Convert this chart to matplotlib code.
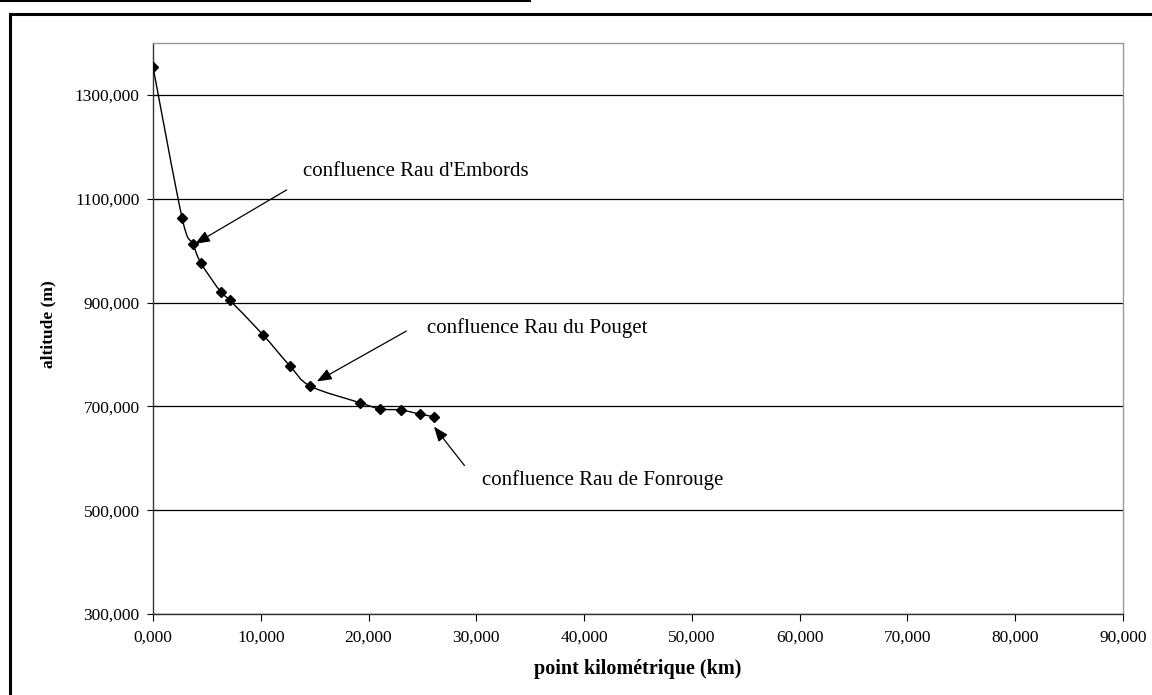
import matplotlib
matplotlib.use("Agg")
import matplotlib.pyplot as plt
from matplotlib.path import Path
from matplotlib.patches import PathPatch, Rectangle
from matplotlib.lines import Line2D
from matplotlib.ticker import FuncFormatter

plt.rcParams['font.family'] = ['Liberation Serif', 'DejaVu Serif']

# Data
km = [0.0, 2.7, 3.7, 4.45, 6.3, 7.1, 10.2, 12.7, 14.6, 19.2, 21.1, 23.0, 24.8, 26.1]
altitude = [1354, 1063, 1013, 976, 920, 905, 838, 778, 739, 707, 695, 693, 685, 680]

annot_texts = ["confluence Rau d'Embords", "confluence Rau du Pouget", "confluence Rau de Fonrouge"]
annot_targets = [(3.9, 1013), (15.2, 748), (26.07, 661)]
annot_tails = [(12.4, 1117), (23.5, 845), (28.9, 586)]
annot_text_pos = [(13.9, 1152), (25.4, 851), (30.5, 558)]

xticks = [0, 10, 20, 30, 40, 50, 60, 70, 80, 90]
yticks = [300, 500, 700, 900, 1100, 1300]

fig = plt.figure(figsize=(11.52, 6.95), dpi=100)
ax = fig.add_axes([153/1152, 1-614/695, (1123-153)/1152, (614-43)/695])

# smoothed line (Catmull-Rom style Bezier as in Excel)
n = len(km)
verts = [(km[0], altitude[0])]
codes = [Path.MOVETO]
for i in range(n - 1):
    p0 = (km[max(i-1, 0)], altitude[max(i-1, 0)])
    p1 = (km[i], altitude[i])
    p2 = (km[i+1], altitude[i+1])
    p3 = (km[min(i+2, n-1)], altitude[min(i+2, n-1)])
    c1 = (p1[0] + (p2[0]-p0[0])/6, p1[1] + (p2[1]-p0[1])/6)
    c2 = (p2[0] - (p3[0]-p1[0])/6, p2[1] - (p3[1]-p1[1])/6)
    verts += [c1, c2, p2]
    codes += [Path.CURVE4]*3
ax.add_patch(PathPatch(Path(verts, codes), facecolor='none', edgecolor='black', lw=1.0, zorder=3))
ax.plot(km, altitude, linestyle='none', marker='D', markersize=5, color='black', zorder=4)

for t, tgt, tail, tp in zip(annot_texts, annot_targets, annot_tails, annot_text_pos):
    ax.annotate('', xy=tgt, xytext=tail,
                arrowprops=dict(arrowstyle='-|>,head_length=0.9,head_width=0.35', color='black', lw=0.9,
                                shrinkA=0, shrinkB=0))
    ax.text(tp[0], tp[1], t, fontsize=15, ha='left', va='center')

ax.set_xlim(0, 90)
ax.set_ylim(300, 1400)
ax.set_xticks(xticks)
ax.set_yticks(yticks)
fmt = FuncFormatter(lambda v, p: f"{v:.3f}".replace('.', ','))
ax.xaxis.set_major_formatter(fmt)
ax.yaxis.set_major_formatter(fmt)
ax.tick_params(axis='both', labelsize=12.5, length=5, width=0.8, color='black', direction='out', pad=6)
ax.tick_params(axis='y', direction='inout', length=9, pad=5)
ax.grid(axis='y', color='black', lw=0.9)
ax.set_axisbelow(True)
for s in ['top', 'right']:
    ax.spines[s].set_color('#999999')
    ax.spines[s].set_linewidth(1.0)
for s in ['left', 'bottom']:
    ax.spines[s].set_color('#333333')
    ax.spines[s].set_linewidth(1.0)

ax.set_xlabel('point kilométrique (km)', fontsize=14.5, fontweight='bold', labelpad=10)
ax.set_ylabel('altitude (m)', fontsize=12.5, fontweight='bold')
ax.yaxis.set_label_coords(-0.100, 0.508)

# figure frame (chart area border) and top line
fig.patches.append(Rectangle((9.5/1152, -0.05), 1.2, 1-13.5/695+0.05, transform=fig.transFigure,
                             fill=False, edgecolor='black', lw=2.2))
fig.lines.append(Line2D([0, 530/1152], [1-1/695, 1-1/695], transform=fig.transFigure, color='black', lw=1.5))

fig.savefig('out.png', dpi=100)
